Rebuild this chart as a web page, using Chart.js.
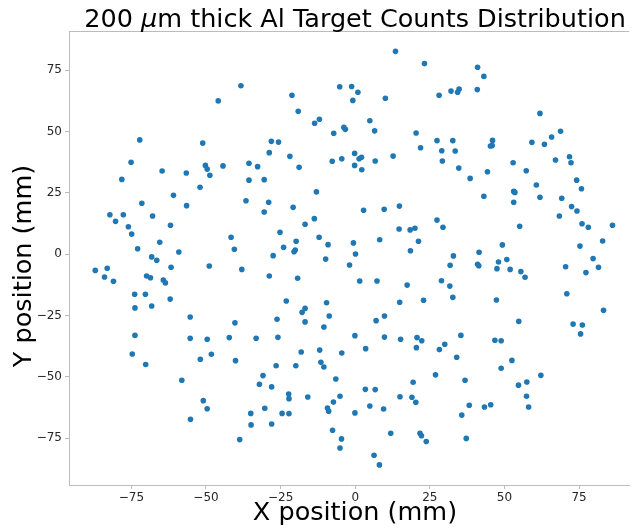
<!DOCTYPE html>
<html>
<head>
<meta charset="utf-8">
<script src="https://cdn.jsdelivr.net/npm/chart.js@4.4.0/dist/chart.umd.min.js"></script>
<style>
  html, body { margin: 0; padding: 0; background: #fff; }
</style>
</head>
<body>
<canvas id="myChart" width="632" height="529"></canvas>
<script>
// hit positions (mm)
const xValues = [
  -72.2, -45.9, -38.3, -51.1, -75.1, -78.2, -64.7, -56.6, -50.2, -49.6,
  -48.7, -44.3, -35.6, -32.7, -35.6, 13.5, 23.2, 28.1, -5.2, -1.2,
  0.9, -0.8, 10.1, -21.2, -19.1, -13.6, -12.0, -3.8, -3.3, -7.2,
  4.9, 6.5, 20.4, 27.4, 21.9, 29.0, 29.2, -28.1, -25.7, -28.8,
  -21.9, -18.8, -30.5, -7.7, -4.5, -0.2, -0.2, 1.3, 2.1, 2.2,
  6.7, 12.7, 41.0, 43.1, 34.8, 34.3, 32.1, 40.9, 61.9, 32.7,
  46.0, 45.3, 45.9, 33.5, 34.7, 38.5, 44.3, 52.9, 57.3, 59.2,
  63.4, 65.8, 68.8, 67.1, 71.8, 72.3, 74.2, 60.7, -52.0, -60.9,
  -36.6, -71.5, -56.5, -82.2, -77.7, -67.9, -80.3, -76.0, -61.9, -74.9,
  -41.6, -65.5, -72.9, -40.5, -59.1, -68.2, -66.5, -87.1, -83.1, -61.7,
  -48.9, -38.0, -84.0, -69.9, -68.6, -81.0, -64.3, -63.6, -73.9, -70.3,
  -62.0, -73.8, -68.2, -55.3, -40.3, -13.0, -29.0, -30.5, -20.8, 2.8,
  9.7, 14.8, -13.7, -16.8, 27.4, 29.4, 14.7, 18.4, 20.0, -25.2,
  -12.1, 8.2, 21.2, -19.8, -9.1, -0.6, -24.0, -20.1, -20.5, 18.5,
  -27.5, 0.1, -9.9, -1.9, -28.8, -19.3, 1.5, 7.3, 17.4, 28.9,
  -23.1, -9.6, 14.9, 22.9, -16.8, -17.8, -8.7, -26.2, -16.8, 7.0,
  9.8, -10.5, 75.8, 53.1, 53.5, 43.1, 61.9, 69.2, 53.1, 72.5,
  74.3, 68.4, 55.1, 76.0, 78.1, 86.2, 49.3, 75.3, 82.9, 32.9,
  41.5, 31.8, 41.0, 41.4, 48.0, 50.8, 47.5, 51.9, 55.5, 56.9,
  70.5, 79.7, 81.5, 77.3, 31.7, 32.7, 47.3, 70.9, 83.2, 54.8,
  73.0, 76.1, 75.5, 35.4, -73.8, -55.3, -49.6, -42.2, -33.2, -74.7,
  -70.2, -51.9, -48.2, -40.1, -58.1, -32.1, -50.9, -49.6, -35.0, -34.9,
  -55.2, -38.7, -25.9, -0.1, 9.8, 15.2, 20.7, 22.3, 20.5, 30.0,
  28.2, -18.1, -11.9, -4.5, 3.5, -26.5, -19.9, -11.5, -10.5, -30.9,
  -6.5, 26.9, -28.0, 19.4, 3.4, 6.7, -22.3, -22.2, -15.9, -5.1,
  15.0, 19.0, 20.3, -7.3, 4.9, -9.3, -8.9, 9.5, -30.3, -24.5,
  -22.2, -0.1, -28.0, -7.6, 11.9, 21.7, 22.2, 23.8, -4.6, -5.1,
  6.3, 8.1, 46.8, 48.9, 34.0, 52.5, 48.9, 62.2, 36.8, 54.7,
  57.5, 57.4, 58.1, 38.2, 43.3, 45.4, 35.7, 37.2
];
const yValues = [
  46.6, 62.5, 68.7, 45.3, 37.5, 30.5, 33.9, 33.1, 36.2, 34.7,
  32.2, 36.0, 37.1, 35.7, 30.2, 82.7, 77.7, 64.8, 68.3, 68.4,
  66.0, 62.7, 63.6, 64.8, 58.3, 53.4, 55.0, 51.7, 50.9, 49.3,
  54.4, 50.3, 49.4, 46.3, 43.4, 42.2, 38.0, 46.0, 45.7, 41.4,
  39.9, 35.4, 30.4, 37.9, 38.9, 41.1, 36.2, 38.9, 39.5, 34.4,
  38.0, 40.0, 76.2, 72.5, 67.3, 66.0, 66.5, 67.1, 57.4, 46.3,
  46.4, 44.1, 44.3, 42.1, 35.1, 30.9, 33.6, 37.3, 34.0, 45.6,
  44.8, 47.8, 50.1, 38.4, 39.7, 37.3, 30.2, 28.2, 27.3, 24.0,
  21.8, 20.8, 19.8, 16.1, 16.1, 15.6, 13.4, 11.2, 11.8, 8.2,
  6.9, 4.9, 2.2, 2.0, 0.9, -1.1, -2.5, -6.6, -5.7, -5.3,
  -4.8, -6.2, -9.3, -8.9, -9.6, -11.0, -10.5, -11.7, -16.3, -16.3,
  -18.3, -21.9, -21.1, -25.6, -28.0, 25.4, 21.2, 17.2, 19.1, 17.9,
  18.3, 19.6, 14.5, 12.2, 13.9, 11.0, 10.3, 9.9, 10.6, 8.9,
  6.9, 5.9, 5.3, 5.3, 3.9, 4.6, 2.8, 1.7, 1.0, 1.4,
  -0.6, 0.1, -2.0, -4.4, -8.9, -9.8, -10.9, -10.9, -12.6, -10.8,
  -19.1, -19.8, -19.6, -18.8, -22.1, -23.7, -25.2, -26.5, -27.6, -27.1,
  -25.2, -29.7, 26.7, 25.6, 25.2, 23.6, 23.2, 22.8, 21.2, 19.4,
  17.6, 15.6, 11.4, 12.4, 11.0, 11.8, 3.8, 3.3, 5.4, -0.7,
  0.8, -4.5, -4.1, -4.7, -3.2, -2.2, -5.9, -6.2, -7.1, -9.4,
  -5.1, -1.8, -5.3, -7.5, -13.0, -17.6, -18.7, -16.1, -22.9, -27.4,
  -28.5, -28.9, -32.5, -33.1, -33.1, -34.3, -34.7, -34.0, -34.3, -40.7,
  -45.0, -42.8, -40.8, -43.4, -51.4, -53.0, -59.7, -63.0, -64.9, -69.6,
  -67.3, -75.6, -33.9, -33.2, -33.8, -34.7, -34.0, -35.3, -38.1, -36.7,
  -38.9, -39.9, -39.1, -40.3, -38.5, -45.5, -45.5, -44.1, -46.0, -49.5,
  -50.9, -49.2, -54.1, -52.2, -55.1, -55.2, -57.0, -58.9, -58.2, -57.9,
  -58.1, -58.3, -60.4, -60.3, -61.9, -62.7, -64.0, -63.1, -62.8, -64.9,
  -65.0, -64.7, -69.2, -71.8, -73.0, -73.0, -74.0, -76.4, -75.3, -79.0,
  -82.0, -85.9, -35.1, -35.3, -42.0, -43.3, -46.5, -49.4, -51.4, -53.4,
  -52.1, -57.9, -62.3, -61.6, -62.3, -61.4, -65.6, -75.1
];
const xTicks = [-75, -50, -25, 0, 25, 50, 75];
const yTicks = [-75, -50, -25, 0, 25, 50, 75];
const xMin = -95.9, xMax = 91.8;
const yMin = -94.1, yMax = 91.0;

const FONT = "'DejaVu Sans', sans-serif";
const spineColor = '#bcbcbc';
const textColor = '#262626';

const fmt = v => (v < 0 ? '\u2212' + Math.abs(v) : String(v));

// title with italic mu, axis labels and the top spine
const textPlugin = {
  id: 'texts',
  afterDraw(chart) {
    const ctx = chart.ctx;
    const a = chart.chartArea;
    ctx.save();
    ctx.strokeStyle = spineColor;
    ctx.lineWidth = 1;
    ctx.beginPath();
    ctx.moveTo(a.left, a.top + 0.5);
    ctx.lineTo(a.right, a.top + 0.5);
    ctx.stroke();

    ctx.fillStyle = '#000';
    ctx.textBaseline = 'alphabetic';
    const parts = [
      ['200 ', 'normal'],
      ['\u03bc', 'italic'],
      ['m thick Al Target Counts Distribution', 'normal']
    ];
    let total = 0;
    parts.forEach(p => {
      ctx.font = p[1] + ' 25.5px ' + FONT;
      p.push(ctx.measureText(p[0]).width);
      total += p[2];
    });
    let x = 355 - total / 2;
    ctx.textAlign = 'left';
    parts.forEach(p => {
      ctx.font = p[1] + ' 25.5px ' + FONT;
      ctx.fillText(p[0], x, 26.5);
      x += p[2];
    });

    ctx.font = '25.5px ' + FONT;
    ctx.textAlign = 'center';
    ctx.fillText('X position (mm)', 355, 520);

    ctx.translate(31, 266);
    ctx.rotate(-Math.PI / 2);
    ctx.fillText('Y position (mm)', 0, 0);
    ctx.restore();
  }
};

new Chart(document.getElementById('myChart'), {
  type: 'scatter',
  data: {
    datasets: [{
      data: xValues.map((x, i) => ({ x: x, y: yValues[i] })),
      backgroundColor: '#1f77b4',
      borderWidth: 0,
      pointRadius: 2.8,
      pointHoverRadius: 2.8
    }]
  },
  options: {
    responsive: false,
    animation: false,
    events: [],
    layout: { padding: { top: 31, left: 0, right: 0, bottom: 0 } },
    plugins: {
      legend: { display: false },
      tooltip: { enabled: false },
      title: { display: false }
    },
    scales: {
      x: {
        type: 'linear',
        min: xMin,
        max: xMax,
        afterBuildTicks: s => { s.ticks = xTicks.map(v => ({ value: v })); },
        afterFit: s => { s.height = 44; },
        grid: { drawOnChartArea: false, tickLength: 4, color: spineColor },
        border: { color: spineColor },
        ticks: {
          font: { family: FONT, size: 12 },
          color: textColor,
          padding: 2,
          maxRotation: 0,
          callback: v => fmt(v)
        }
      },
      y: {
        type: 'linear',
        min: yMin,
        max: yMax,
        afterBuildTicks: s => { s.ticks = yTicks.map(v => ({ value: v })); },
        afterFit: s => { s.width = 69; },
        grid: { drawOnChartArea: false, tickLength: 4, color: spineColor },
        border: { color: spineColor },
        ticks: {
          font: { family: FONT, size: 12 },
          color: textColor,
          padding: 3,
          callback: v => fmt(v)
        }
      }
    }
  },
  plugins: [textPlugin]
});
</script>
</body>
</html>
